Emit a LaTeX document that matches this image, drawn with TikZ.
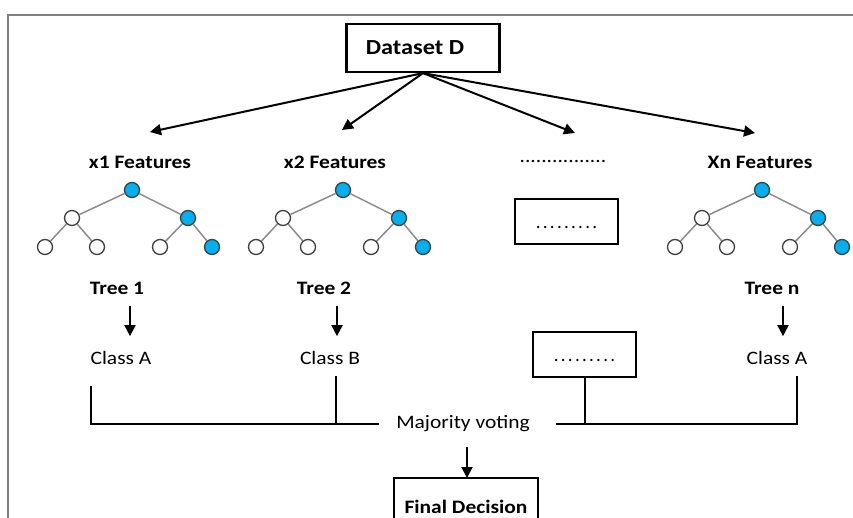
\documentclass[tikz,border=0pt]{standalone}
\usepackage{fontspec}
\setmainfont{Carlito}
\usetikzlibrary{arrows.meta}
\newcommand\widetxt[1]{\scalebox{1.13}[1]{#1}}
\definecolor{nodeblue}{RGB}{0,176,240}
\definecolor{framegray}{RGB}{128,128,128}
\definecolor{edgegray}{RGB}{140,140,140}
\begin{document}
\begin{tikzpicture}[x=1pt,y=-1pt,
  lbl/.style={font=\fontsize{19}{22}\selectfont, inner sep=2pt},
  lblb/.style={font=\fontsize{19}{22}\selectfont\bfseries, inner sep=2pt},
  box/.style={draw, line width=2.2pt},
  boxline/.style={line width=2.2pt},
  arr/.style={-{Triangle[length=11pt,width=11pt]}, line width=2pt},
  wire/.style={line width=2pt},
  tedge/.style={draw=edgegray, line width=1.5pt},
  tnode/.style={circle, draw=black!75, line width=1.3pt, minimum size=15pt, inner sep=0pt, fill=white},
  tblue/.style={tnode, fill=nodeblue}]
\useasboundingbox (0,0) rectangle (853,518);
% page frame
\draw[framegray, line width=1.5pt] (870,15) -- (8,15) -- (8,530);

% dataset
\node[box, font=\fontsize{21.5}{24}\selectfont\bfseries, minimum width=153pt, minimum height=48pt] (D) at (423,48)
  {\widetxt{Dataset D}\hspace*{16pt}};

% feature subsets
\node[lblb] (f1) at (140,162) {\widetxt{x1 Features}};
\node[lblb] (f2) at (335,162) {\widetxt{x2 Features}};
\node[lbl]  (f3) at (563,162) {\widetxt{................}};
\node[lblb] (f4) at (760,162) {\widetxt{Xn Features}};
\coordinate (p1) at (150,132);
\coordinate (p2) at (342,130);
\coordinate (p3) at (575,133);
\coordinate (p4) at (755,133);
\foreach \p in {p1,p2,p3,p4} \draw[arr] (D.south) -- (\p);

% decision trees
\foreach \t/\ox in {1/0,2/211,n/630}{
  \node[tblue] (r\t)  at (132+\ox,190) {};
  \node[tnode] (a\t)  at (72+\ox,218) {};
  \node[tblue] (b\t)  at (188+\ox,218) {};
  \node[tnode] (aa\t) at (45+\ox,247) {};
  \node[tnode] (ab\t) at (97+\ox,247) {};
  \node[tnode] (ba\t) at (160+\ox,247) {};
  \node[tblue] (bb\t) at (212+\ox,247) {};
  \draw[tedge] (r\t) -- (a\t);
  \draw[tedge] (r\t) -- (b\t);
  \draw[tedge] (a\t) -- (aa\t);
  \draw[tedge] (a\t) -- (ab\t);
  \draw[tedge] (b\t) -- (ba\t);
  \draw[tedge] (b\t) -- (bb\t);
}
\node[box, lbl, minimum width=103pt, minimum height=45pt, text height=14pt, text depth=0pt] (B1) at (566.5,221.5)
  {\addfontfeatures{LetterSpace=12}.........};

% tree outputs
\node[lblb] (T1) at (117,288) {\widetxt{Tree 1}};
\node[lblb] (T2) at (324,288) {\widetxt{Tree 2}};
\node[lblb] (T3) at (772,288) {\widetxt{Tree n}};
\node[lbl] (C1) at (121,358) {\widetxt{Class A}};
\node[lbl] (C2) at (330,358) {\widetxt{Class B}};
\node[lbl] (C3) at (777,358) {\widetxt{Class A}};
\node[box, lbl, minimum width=103pt, minimum height=45pt, text height=14pt, text depth=0pt] (B2) at (584.5,354.5)
  {\addfontfeatures{LetterSpace=12}.........};
\draw[arr, shorten <=10pt, shorten >=13pt] ([xshift=13pt]T1.south) -- ([xshift=13pt]T1.south |- C1.north);
\draw[arr, shorten <=10pt, shorten >=13pt] ([xshift=13pt]T2.south) -- ([xshift=13pt]T2.south |- C2.north);
\draw[arr, shorten <=10pt, shorten >=13pt] ([xshift=11pt]T3.south) -- ([xshift=11pt]T3.south |- C3.north);

% voting
\node[lbl] (M) at (463,424) {\widetxt{Majority voting}};
\draw[wire, shorten >=15pt] ([xshift=3pt,yshift=-19pt]C1.south west) |- (M.west);
\draw[wire] ([xshift=6pt,yshift=-9pt]C2.south) -- ([xshift=6pt]C2.south |- M.west);
\draw[wire] (B2.south) -- (B2.south |- M.east);
\draw[wire, shorten >=24pt] ([xshift=20pt,yshift=-9pt]C3.south) |- (M.east);

% final decision: box runs on past the lower page edge
\node[lblb, anchor=north, minimum width=143pt, minimum height=38pt, text height=14pt, text depth=0pt] (F) at (466,478)
  {\raisebox{-9pt}{\widetxt{Final Decision}}};
\draw[boxline] ([yshift=-12pt]F.south west) -- (F.north west) -- (F.north east) -- ([yshift=-12pt]F.south east);
\draw[arr, shorten <=13pt] ([xshift=4pt]M.south) -- ([xshift=4pt]M.south |- F.north);
\end{tikzpicture}
\end{document}
